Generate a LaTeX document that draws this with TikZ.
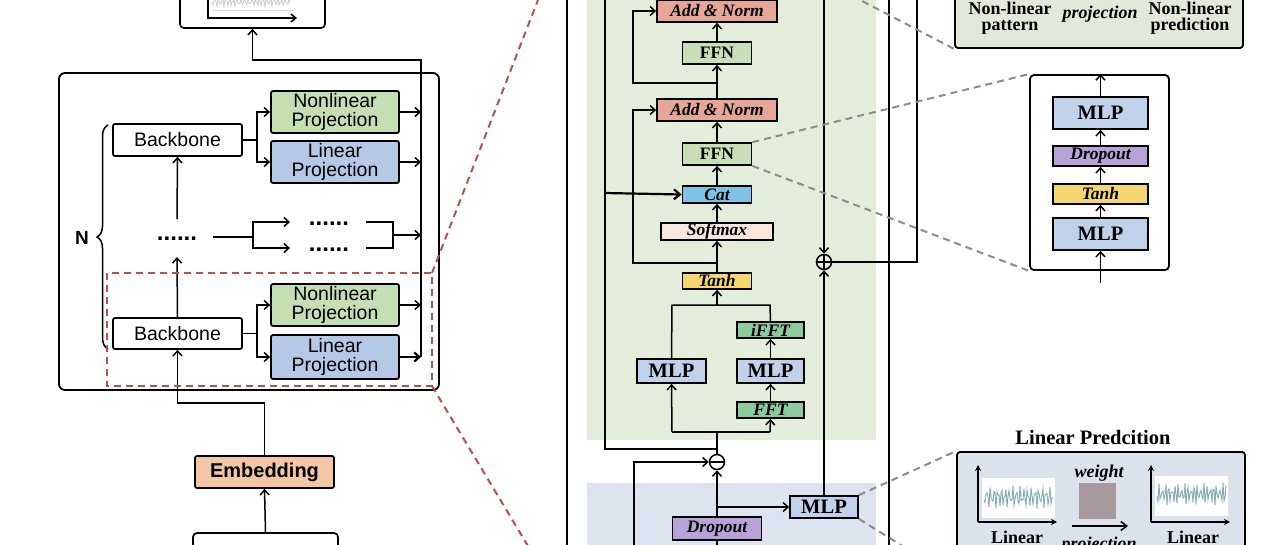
\documentclass[tikz,border=0pt]{standalone}
\usepackage{fontspec}
\setmainfont{Liberation Serif}
\setsansfont{Liberation Sans}
\usetikzlibrary{arrows.meta,decorations.pathreplacing,calc}
\definecolor{cNL}{HTML}{C5DFB4}
\definecolor{cLP}{HTML}{B5C8E6}
\definecolor{cEmb}{HTML}{F3C6A6}
\definecolor{cAN}{HTML}{E5A597}
\definecolor{cFFN}{HTML}{C8E0B8}
\definecolor{cCat}{HTML}{7CC3E6}
\definecolor{cSoft}{HTML}{FBE6DB}
\definecolor{cTanh}{HTML}{F5D671}
\definecolor{cFFT}{HTML}{8ECB9C}
\definecolor{cMLP}{HTML}{C0D1EA}
\definecolor{cDrop}{HTML}{B7A3D8}
\definecolor{cGreenBg}{HTML}{E4ECDA}
\definecolor{cBlueBg}{HTML}{DDE4EF}
\definecolor{cTopBox}{HTML}{E2E9D8}
\definecolor{cLinBox}{HTML}{DCE2EC}
\definecolor{cRed}{HTML}{B9514C}
\definecolor{cDash}{HTML}{8C8C8C}
\definecolor{cWave}{HTML}{86AEB0}
\definecolor{cWeight}{HTML}{A6989C}
\begin{document}
\begin{tikzpicture}[x=1pt,y=-1pt,
 sbox/.style={draw, line width=1.7pt, rounded corners=2pt, inner sep=0pt, align=center, font=\sffamily\fontsize{19.5}{18.5}\selectfont},
 mbox/.style={draw, line width=1.7pt, inner sep=0pt, font=\bfseries\itshape\fontsize{17.5}{17.5}\selectfont},
 mup/.style={mbox, font=\bfseries\fontsize{17.5}{17.5}\selectfont},
 mlpsty/.style={mbox, fill=cMLP, font=\bfseries\fontsize{20.5}{20.5}\selectfont},
 dotsty/.style={inner sep=0pt, anchor=base, font=\sffamily\bfseries\fontsize{24}{24}\selectfont},
 ln/.style={line width=1.5pt},
 arr/.style={line width=1.5pt, -{Straight Barb[length=5pt,width=9pt]}},
 gdash/.style={draw=cDash, line width=2pt, dash pattern=on 7pt off 5pt},
 rdash/.style={draw=cRed, line width=2pt, dash pattern=on 7pt off 5pt},
 rtxt/.style={inner sep=0pt, anchor=base, font=\bfseries\fontsize{18}{18}\selectfont},
 rtxti/.style={rtxt, font=\bfseries\itshape\fontsize{18}{18}\selectfont},
]
\useasboundingbox (0,0) rectangle (1280,544);
\clip (0,0) rectangle (1280,544);
\fill[white] (0,0) rectangle (1280,544);

% ================= LEFT PANEL =================
\node[sbox, rounded corners=4pt, minimum width=145pt, minimum height=60pt] (outbox) at (252.5,-2) {};
\draw[gray!40, line width=0.8pt] plot[domain=0:78, samples=79] ({212+\x}, {2+3*sin(\x*97)+2*sin(\x*157+30)});
\draw[gray!25, line width=0.8pt] (212,10) -- (294,10);
\draw[ln, -{Straight Barb[length=5pt,width=8pt]}] (208,-20) -- (208,18) -- (297,18);

\node[draw, line width=1.8pt, rounded corners=6pt, minimum width=380pt, minimum height=317pt, inner sep=0pt] (mainbox) at (249,231.5) {};

\node[sbox, minimum width=129pt, minimum height=32pt] (bb1) at (177.5,140) {Backbone};
\node[sbox, fill=cNL, minimum width=128pt, minimum height=42pt] (nl1) at (335,112) {Nonlinear\\Projection};
\node[sbox, fill=cLP, minimum width=128pt, minimum height=42pt] (lp1) at (335,162) {Linear\\Projection};

\node[sbox, minimum width=129pt, minimum height=31pt] (bb2) at (177.5,333.5) {Backbone};
\node[sbox, fill=cNL, minimum width=128pt, minimum height=42pt] (nl2) at (335,305) {Nonlinear\\Projection};
\node[sbox, fill=cLP, minimum width=128pt, minimum height=44pt] (lp2) at (335,357) {Linear\\Projection};

\node[dotsty] (d1) at (177,240) {......};
\node[dotsty] (d2) at (329,225) {......};
\node[dotsty] (d3) at (329,251) {......};

\node[font=\sffamily\bfseries\fontsize{19}{19}\selectfont, inner sep=0pt] (nlab) at (82,238) {N};
\draw[ln, decorate, decoration={brace, amplitude=11pt}] (108,349) -- (108,125);

\node[sbox, fill=cEmb, minimum width=139pt, minimum height=32pt, font=\sffamily\bfseries\fontsize{20}{20}\selectfont] (emb) at (264.5,472) {Embedding};
\node[sbox, rounded corners=4pt, minimum width=145pt, minimum height=40pt] (inbox) at (265.5,553) {};

\coordinate (coltop) at (421,60);
\coordinate (colbot) at (421,357);
% upper block
\draw[ln] (bb1.east) -- (257,140);
\draw[arr] (257,140) |- (nl1.west);
\draw[arr] (257,140) |- (lp1.west);
\draw[arr] (nl1.east) -- (nl1.east -| coltop);
\draw[arr] (lp1.east) -- (lp1.east -| coltop);
% lower block
\draw[ln] (bb2.east) -- (257,333.5);
\draw[arr] (257,333.5) |- (nl2.west);
\draw[arr] (257,333.5) |- (lp2.west);
\draw[arr] (nl2.east) -- (nl2.east -| coltop);
\draw[line width=2.3pt, -{Straight Barb[length=5pt,width=9pt]}] (lp2.east) -- (lp2.east -| coltop);
% collector
\draw[arr] (colbot) -- (coltop) -| (outbox.south);
% dots level
\coordinate (d1t) at (177,219);
\coordinate (d1b) at (177,257);
\draw[arr] (d1t) -- (bb1.south);
\draw[arr] (bb2.north) -- (d1b);
\draw[ln] (213,237) -- (253,237);
\draw[arr] (253,237) |- (290,222);
\draw[arr] (253,237) |- (290,248);
\draw[ln] (366,222) -- (393,222) -- (393,248) -- (366,248);
\draw[arr] (393,235) -- (421,235);
% embedding
\draw[arr] (emb.north) -- (264.5,403) -| (bb2.south);
\draw[arr] (inbox.north) -- (emb.south);

% red zoom marker
\draw[rdash] (107,273) rectangle (432,386);
\coordinate (rne) at (432,273);
\coordinate (rse) at (432,386);
\draw[rdash] (rne) -- (543,-13);
\draw[rdash] (rse) -- (537,561);

% ================= MIDDLE PANEL =================
\fill[cGreenBg] (587,-10) rectangle (876,440);
\fill[cBlueBg] (587,483) rectangle (876,560);
\draw[line width=1.8pt] (567,-10) rectangle (889,560);

\node[mbox, fill=cAN, minimum width=120pt, minimum height=22pt] (an1) at (717,11) {Add \& Norm};
\node[mup, fill=cFFN, minimum width=69pt, minimum height=22pt] (ffn1) at (717,53) {FFN};
\node[mbox, fill=cAN, minimum width=120pt, minimum height=22pt] (an2) at (717,110) {Add \& Norm};
\node[mup, fill=cFFN, minimum width=69pt, minimum height=22pt] (ffn2) at (717,154) {FFN};
\node[mbox, fill=cCat, minimum width=69pt, minimum height=17pt] (cat) at (717,194.5) {Cat};
\node[mbox, fill=cSoft, minimum width=112pt, minimum height=17pt] (soft) at (717,231.5) {Softmax};
\node[mbox, fill=cTanh, minimum width=69pt, minimum height=16pt] (tanh) at (717,281) {Tanh};
\node[mbox, fill=cFFT, minimum width=67pt, minimum height=16pt] (ifft) at (770.5,330) {iFFT};
\node[mlpsty, minimum width=67pt, minimum height=24pt] (mlpR) at (770.5,371) {MLP};
\node[mbox, fill=cFFT, minimum width=67pt, minimum height=16pt] (fft) at (770.5,410) {FFT};
\node[mlpsty, minimum width=69pt, minimum height=24pt] (mlpL) at (671.5,371) {MLP};
\node[draw, circle, line width=1.5pt, minimum size=15pt, inner sep=0pt, fill=white] (minus) at (717,462) {};
\draw[ln] (minus.west) -- (minus.east);
\node[mlpsty, minimum width=68pt, minimum height=22pt] (mlpB) at (824,507) {MLP};
\node[mbox, fill=cDrop, minimum width=89pt, minimum height=23pt] (drop) at (717,528.5) {Dropout};
\node[draw, circle, line width=1.5pt, minimum size=15pt, inner sep=0pt] (plus) at (824,262) {};
\draw[ln] (plus.west) -- (plus.east);
\draw[ln] (plus.north) -- (plus.south);

% main column
\draw[arr] (an2.north) -- (ffn1.south);
\draw[arr] (ffn1.north) -- (an1.south);
\draw[arr] (ffn2.north) -- (an2.south);
\draw[arr] (cat.north) -- (ffn2.south);
\draw[arr] (soft.north) -- (cat.south);
\draw[arr] (tanh.north) -- (soft.south);
% residuals
\coordinate (res1) at (717,83);
\coordinate (res2) at (717,263);
\draw[arr] (res1) -- (633,83) |- (an1.west);
\draw[arr] (res2) -- (633,263) |- (an2.west);
% left loop to Cat
\coordinate (jl) at (717,449);
\draw[ln] (jl) -- (605,449) -- (605,-10);
\draw[line width=2.2pt, -{Straight Barb[length=6pt,width=10pt]}] (605,193) -- (cat.west);
% fork to MLP / FFT branch
\coordinate (fk) at (717,432);
\draw[ln] (minus.north) -- (fk);
\draw[ln] (672,432) -- (770,432);
\draw[arr] (672,432) -- (mlpL.south);
\draw[arr] (770,432) -- (fft.south);
\draw[arr] (fft.north) -- (mlpR.south);
\draw[arr] (mlpR.north) -- (ifft.south);
\draw[ln] (mlpL.north) -- (672,305) -- (770,305) -- (ifft.north);
\draw[arr] (717,305) -- (tanh.south);
% minus inputs
\draw[arr] (634,560) |- (minus.west);
\draw[arr] (drop.north) -- (minus.south);
\draw[arr] (717,507) -- (mlpB.west);
\draw[ln] (drop.south) -- (717,560);
% plus
\draw[arr] (mlpB.north) -- (plus.south);
\draw[arr] (824,-10) -- (plus.north);
\draw[ln] (plus.east) -- (917,262) -- (917,-10);

% ================= RIGHT PANEL =================
\node[draw, line width=1.8pt, fill=cTopBox, rounded corners=3pt, minimum width=288pt, minimum height=70pt, inner sep=0pt] (topbox) at (1099,13) {};
\node[rtxt] (t1a) at (1010,14) {Non-linear};
\node[rtxt] (t1b) at (1010,30.5) {pattern};
\node[rtxti] (t2) at (1100,18) {projection};
\node[rtxt] (t3a) at (1190,14) {Non-linear};
\node[rtxt] (t3b) at (1190,30.5) {prediction};

\node[draw, line width=1.8pt, rounded corners=4pt, minimum width=139pt, minimum height=195pt, inner sep=0pt] (mlpbox) at (1099.5,172.5) {};
\node[mlpsty, minimum width=95pt, minimum height=32pt] (rm1) at (1100.5,113) {MLP};
\node[mbox, fill=cDrop, minimum width=95pt, minimum height=20pt] (rdrop) at (1100.5,156) {Dropout};
\node[mbox, fill=cTanh, minimum width=95pt, minimum height=20pt] (rtanh) at (1100.5,194) {Tanh};
\node[mlpsty, minimum width=95pt, minimum height=32pt] (rm2) at (1100.5,234) {MLP};
\coordinate (rin) at (1100.5,283);
\draw[arr] (rin) -- (rm2.south);
\draw[arr] (rm2.north) -- (rtanh.south);
\draw[arr] (rtanh.north) -- (rdrop.south);
\draw[arr] (rdrop.north) -- (rm1.south);
\draw[arr] (rm1.north) -- (rm1.north |- mlpbox.north);

\node[inner sep=0pt, anchor=base, font=\bfseries\fontsize{20.5}{20.5}\selectfont] (lptitle) at (1093,444) {Linear Predcition};
\node[draw, line width=1.8pt, fill=cLinBox, rounded corners=3pt, minimum width=288pt, minimum height=118pt, inner sep=0pt] (lpbox) at (1101,511) {};
% left plot
\fill[white] (982,478) rectangle (1055,518);
\draw[cWave, line width=0.9pt] plot[domain=0:69, samples=70] ({984+\x}, {497+7*sin(\x*97)+5*sin(\x*157+40)});
\draw[ln, -{Stealth[length=6pt,width=6pt]}] (978,522) -- (978,465);
\draw[ln, -{Stealth[length=6pt,width=6pt]}] (978,522) -- (1057,522);
% right plot
\fill[white] (1155,476) rectangle (1228,516);
\draw[cWave, line width=0.9pt] plot[domain=0:69, samples=70] ({1157+\x}, {494+7*sin(\x*113+20)+5*sin(\x*151)});
\draw[ln, -{Stealth[length=6pt,width=6pt]}] (1151,522) -- (1151,465);
\draw[ln, -{Stealth[length=6pt,width=6pt]}] (1151,522) -- (1230,522);
% weight
\fill[cWeight] (1079,483) rectangle (1116,519);
\draw[ln, -{Straight Barb[length=6pt,width=9pt]}] (1072,526) -- (1128,526);
\node[rtxti] (wt) at (1099,477) {weight};
\node[rtxt] (lin1) at (1017,543) {Linear};
\node[rtxti] (proj) at (1099,549) {projection};
\node[rtxt] (lin2) at (1193,543) {Linear};

% gray dashed zoom lines
\coordinate (gtop) at (841,-10);
\coordinate (gbot) at (920,557);
\draw[gdash] (gtop) -- (topbox.south west);
\draw[gdash] (ffn2.north east) -- (mlpbox.north west);
\draw[gdash] (ffn2.south east) -- (mlpbox.south west);
\draw[gdash] (mlpB.north east) -- (lpbox.north west);
\draw[gdash] (mlpB.south east) -- (gbot);
\end{tikzpicture}
\end{document}
